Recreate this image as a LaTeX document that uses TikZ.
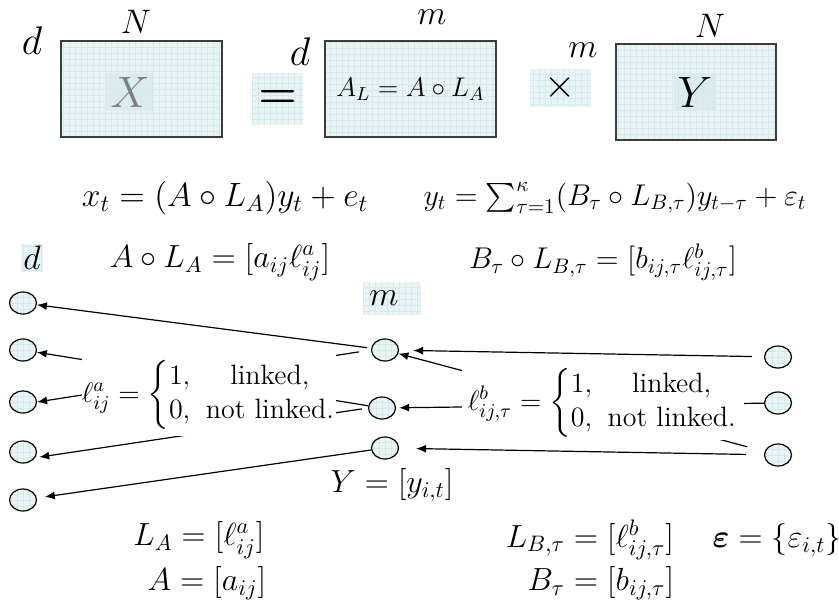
\documentclass[tikz,border=0pt]{standalone}
\usepackage{fix-cm}
\usepackage{amsmath,bm}
\usetikzlibrary{arrows.meta,shapes.geometric}
\definecolor{cellfill}{RGB}{232,244,245}
\definecolor{cellgrid}{RGB}{214,233,235}
\definecolor{cellmark}{RGB}{218,236,238}
\definecolor{frame}{RGB}{60,60,60}
\newcommand\eqfont{\fontsize{16}{20}\selectfont}
\newcommand\sumfont{\fontsize{15}{19}\selectfont}
\newcommand\dimfont{\fontsize{17}{20}\selectfont}
\newcommand\labfont{\fontsize{14}{17}\selectfont}

\begin{document}
\begin{tikzpicture}[x=0.5pt,y=-0.5pt,
    grid cell/.style={fill=cellfill, path picture={\draw[cellgrid, line width=0.2pt, step=3pt]
      (path picture bounding box.south west) grid (path picture bounding box.north east);}},
    matbox/.style={grid cell, draw=frame, line width=0.8pt, minimum height=48pt, inner sep=0pt},
    celltag/.style={grid cell, inner sep=1pt},
    dim/.style={font=\dimfont, inner sep=0pt},
    unit/.style={ellipse, grid cell, draw=black, line width=0.6pt, minimum width=13.5pt, minimum height=11pt, inner sep=0pt},
    link/.style={-{Latex[length=5pt,width=4pt]}, line width=0.6pt},
    mask/.style={fill=white, font=\labfont},
  ]
  \useasboundingbox (0,0) rectangle (839,604);

  \node (dimN1) [dim] at (136,22) {$N$};
  \node (dimd1) [dim, font=\fontsize{20}{24}\selectfont] at (32,41) {$d$};
  \node (boxX) [matbox, minimum width=80.5pt] at (141.5,89) {};
  \node (symX) [grid cell, fill=cellmark, text=gray, inner sep=2pt, font=\fontsize{22}{26}\selectfont] at (130,92) {$X$};
  \node (eqsign) [celltag, minimum width=25.5pt, minimum height=26pt, font=\fontsize{22}{26}\selectfont] at (277.5,99) {$\bm{=}$};
  \node (dimd2) [dim, font=\fontsize{20}{24}\selectfont] at (300,52) {$d$};
  \node (dimm1) [dim] at (432,17) {$m$};
  \node (boxA) [matbox, minimum width=85.5pt, font=\fontsize{13.5}{16}\selectfont] at (410.5,89) {$A_L = A\circ L_A$};
  \node (times) [celltag, minimum width=30.5pt, minimum height=19pt, font=\fontsize{20}{24}\selectfont] at (560.5,88) {$\times$};
  \node (dimm2) [dim] at (583,50) {$m$};
  \node (dimN2) [dim] at (710,26) {$N$};
  \node (boxY) [matbox, minimum width=80pt] at (696,92) {};
  \node (symY) [grid cell, fill=cellmark, inner sep=2pt, font=\fontsize{22}{26}\selectfont] at (695,92) {$Y$};

  \node (obs) [font=\fontsize{16.8}{20}\selectfont] at (225,198) {$x_t = (A\circ L_A)y_t + e_t$};
  \node (dyn) [font=\sumfont] at (615,198) {$y_t = \sum_{\tau=1}^{\kappa}(B_\tau\circ L_{B,\tau})y_{t-\tau} + \varepsilon_t$};
  \node (dimd3) [celltag, font=\dimfont] at (32,258) {$d$};
  \node (loadA) [font=\eqfont] at (220,262) {$A\circ L_A = [a_{ij}\ell^a_{ij}]$};
  \node (loadB) [font=\sumfont] at (603,262) {$B_\tau\circ L_{B,\tau} = [b_{ij,\tau}\ell^b_{ij,\tau}]$};
  \node (dimm3) [celltag, minimum width=29pt, minimum height=16.5pt, font=\dimfont] at (392,298) {$m$\kern8pt};

  \node (d1) [unit] at (23,303) {};
  \node (d2) [unit] at (23,350) {};
  \node (d3) [unit] at (23,402) {};
  \node (d4) [unit] at (23,452) {};
  \node (d5) [unit] at (23,500) {};
  \node (m1) [unit] at (385,350) {};
  \node (m2) [unit] at (382,408) {};
  \node (m3) [unit] at (385,448) {};
  \node (r1) [unit] at (778,357) {};
  \node (r2) [unit] at (778,403) {};
  \node (r3) [unit] at (778,455) {};

  \draw[link, shorten <=2pt] (m1) -- (d1);
  \draw[link, shorten <=6pt] (m1.west) -- (d3.east);
  \draw[link] (m2) -- (d2);
  \draw[link, shorten <=3pt, shorten >=2pt] (m2.west) -- (d4.-25);
  \draw[link, shorten >=4pt] (m3) -- (d5);
  \draw[link, shorten <=6pt, shorten >=7pt] (r1) -- (m1);
  \draw[link, shorten >=1.5pt] (r2) -- (m2);
  \draw[link, shorten <=9pt, shorten >=8.5pt] (r3) -- (m3);
  \draw[link, shorten <=9pt] (r3) -- (m1);

  \node (linkA) [mask, inner xsep=0pt, inner ysep=3pt] at (209,395)
    {$\ell^a_{ij} = \left\{\begin{array}{@{}l@{\;\;}c@{}}1, & \text{linked,}\\ 0, & \text{not linked.}\end{array}\right.$};
  \node (linkB) [mask, inner xsep=3pt, inner ysep=1pt] at (603,403)
    {$\ell^b_{ij,\tau} = \left\{\begin{array}{@{}l@{\;\;}c@{}}1, & \text{linked,}\\ 0, & \text{not linked.}\end{array}\right.$};

  \node (defY) [font=\eqfont] at (392,485) {$Y = [y_{i,t}]$};
  \node (defLA) [font=\eqfont] at (199,540) {$L_A = [\ell^a_{ij}]$};
  \node (defA) [font=\eqfont] at (207,583) {$A = [a_{ij}]$};
  \node (defLB) [font=\eqfont] at (590,540) {$L_{B,\tau} = [\ell^b_{ij,\tau}]$};
  \node (defeps) [font=\eqfont] at (777,540) {$\boldsymbol{\varepsilon} = \{\varepsilon_{i,t}\}$};
  \node (defB) [font=\eqfont] at (601,583) {$B_\tau = [b_{ij,\tau}]$};
\end{tikzpicture}
\end{document}
